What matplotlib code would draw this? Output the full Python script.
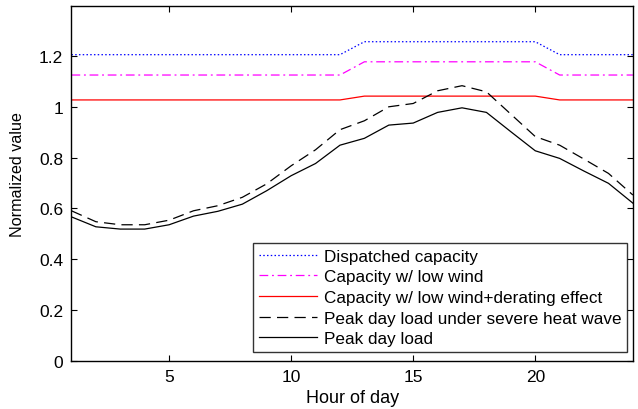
import matplotlib
matplotlib.use("Agg")
import matplotlib.pyplot as plt
from matplotlib.ticker import FuncFormatter

plt.rcParams['font.family'] = ['Liberation Sans', 'DejaVu Sans']

hours = list(range(1, 25))

dispatched = [1.205] * 12 + [1.256] * 8 + [1.205] * 4
low_wind = [1.125] * 12 + [1.177] * 8 + [1.125] * 4
low_wind_derating = [1.027] * 12 + [1.042] * 8 + [1.027] * 4

heat_wave_load = [0.591, 0.548, 0.536, 0.536, 0.554, 0.591, 0.611, 0.644,
                  0.697, 0.768, 0.831, 0.910, 0.945, 1.000, 1.013, 1.063,
                  1.083, 1.059, 0.971, 0.883, 0.849, 0.794, 0.738, 0.653]
peak_load = [0.567, 0.528, 0.519, 0.519, 0.536, 0.570, 0.589, 0.617,
             0.670, 0.729, 0.777, 0.849, 0.876, 0.928, 0.936, 0.978,
             0.996, 0.978, 0.902, 0.827, 0.797, 0.747, 0.699, 0.621]

labels = ["Dispatched capacity",
          "Capacity w/ low wind",
          "Capacity w/ low wind+derating effect",
          "Peak day load under severe heat wave",
          "Peak day load"]

fig = plt.figure(figsize=(6.38, 4.10), dpi=100)
ax = fig.add_axes([0.112, 0.117, 0.880, 0.865])

lw = 0.9
ax.plot(hours, dispatched, color=(0, 0, 1), linestyle=(0, (1.2, 1.8)), lw=lw, label=labels[0])
ax.plot(hours, low_wind, color=(1, 0, 1), linestyle=(0, (7, 3, 1.5, 3)), lw=lw, label=labels[1])
ax.plot(hours, low_wind_derating, color=(1, 0, 0), linestyle='-', lw=lw, label=labels[2])
ax.plot(hours, heat_wave_load, color='black', linestyle=(0, (9, 5)), lw=lw, label=labels[3])
ax.plot(hours, peak_load, color='black', linestyle='-', lw=lw, label=labels[4])

ax.set_xlim(1, 24)
ax.set_ylim(0, 1.395)
ax.set_xticks([5, 10, 15, 20])
ax.set_yticks([0, 0.2, 0.4, 0.6, 0.8, 1.0, 1.2])
ax.yaxis.set_major_formatter(FuncFormatter(lambda v, p: f"{v:g}"))
ax.tick_params(direction='in', top=True, right=True, length=4, width=0.8,
               labelsize=12.5, pad=6)
for s in ax.spines.values():
    s.set_linewidth(1.0)

ax.set_xlabel("Hour of day", fontsize=13, labelpad=3)
ax.set_ylabel("Normalized value", fontsize=11.6)
ax.yaxis.set_label_coords(-0.083, 0.53)

leg = ax.legend(loc='lower right', bbox_to_anchor=(0.990, 0.025), fontsize=12.3,
                frameon=True, fancybox=False, edgecolor='black',
                borderpad=0.35, labelspacing=0.33, handlelength=3.4,
                handletextpad=0.4, borderaxespad=0)
leg.get_frame().set_linewidth(1.0)

fig.savefig("out.png", dpi=100)
